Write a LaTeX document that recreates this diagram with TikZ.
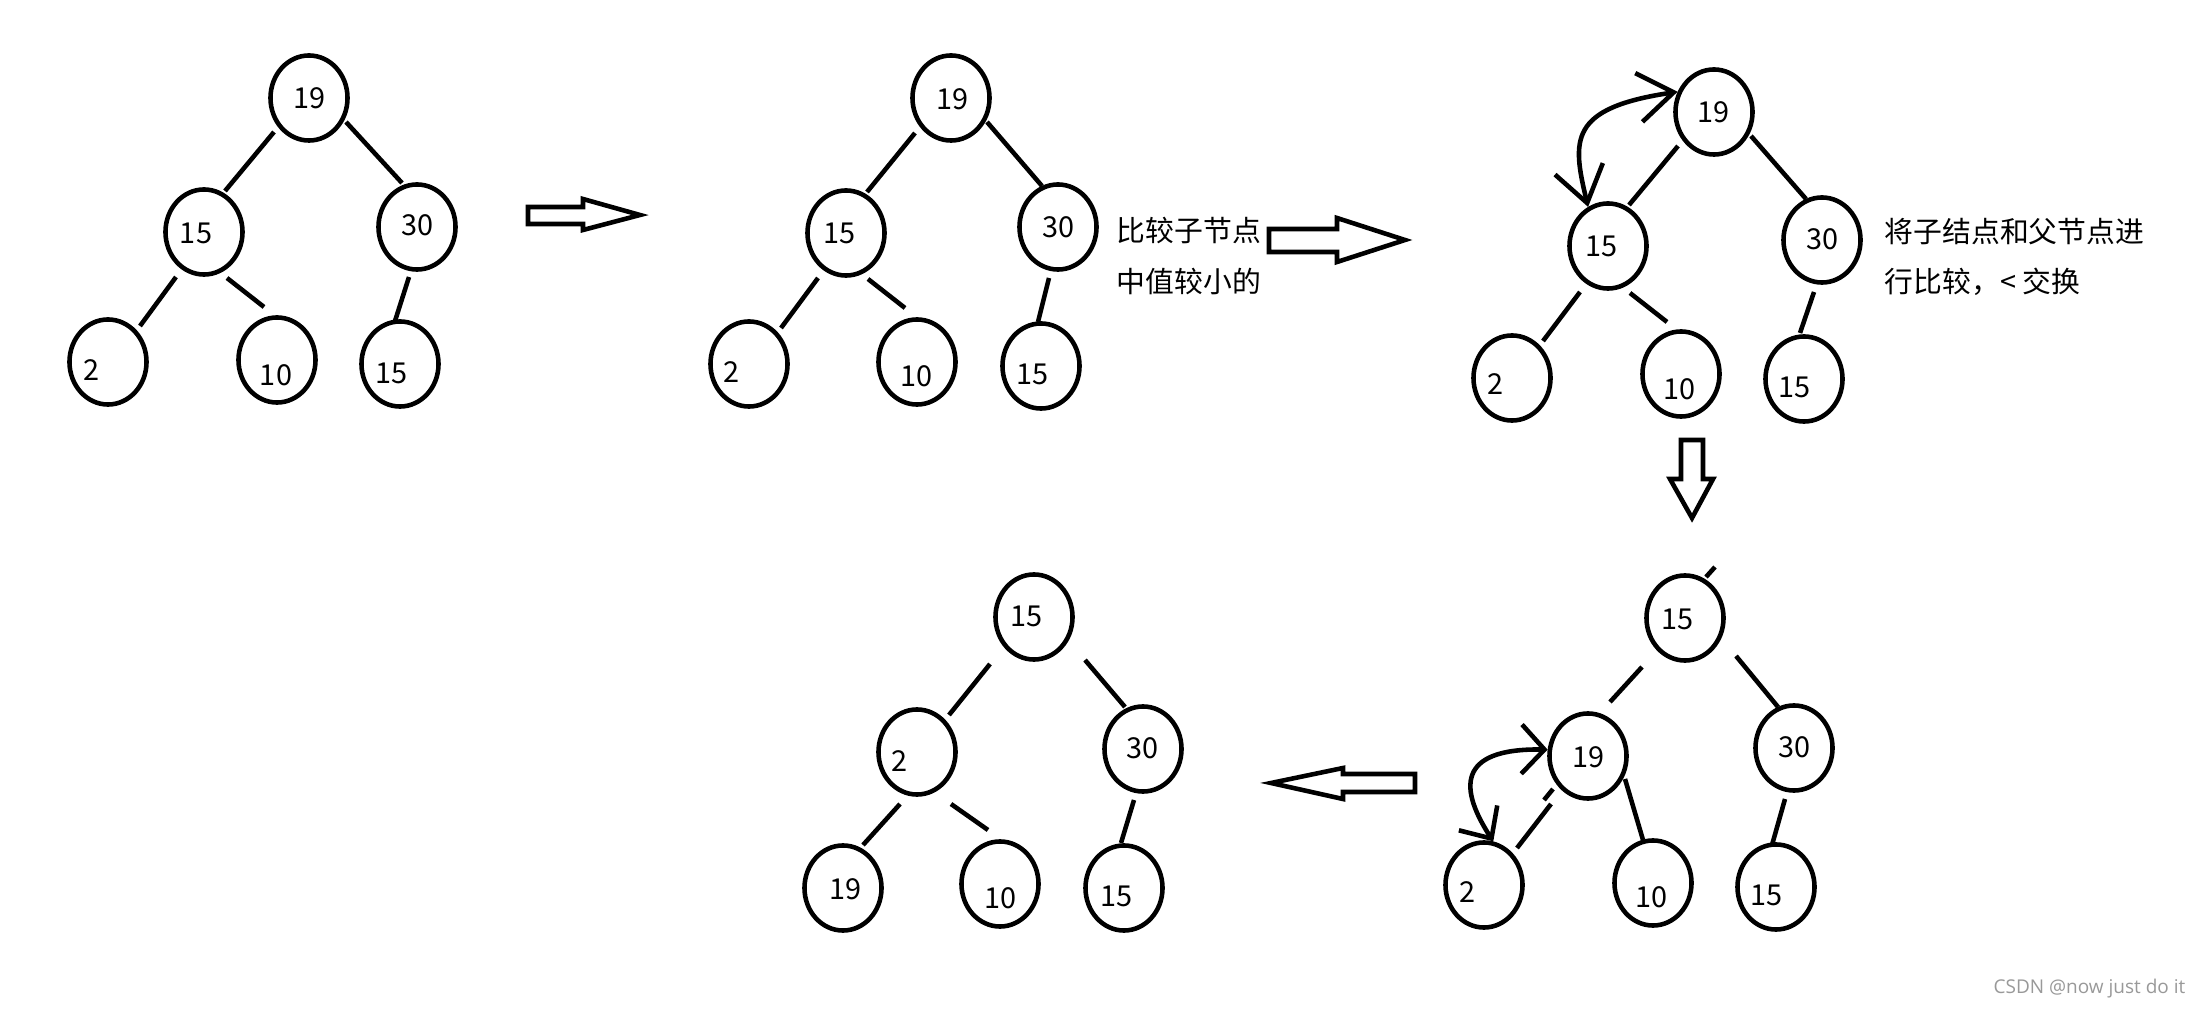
\documentclass[tikz,border=0pt]{standalone}
\usepackage{fontspec}
\setmainfont{Noto Sans CJK SC}
\newfontfamily\wmfont{Open Sans}
\usetikzlibrary{shapes.geometric,arrows.meta,calc}
\begin{document}
\begin{tikzpicture}[x=0.01cm,y=-0.01cm,
  nd/.style={ellipse,draw,line width=1.3pt,minimum width=0.77cm,minimum height=0.85cm,inner sep=0pt},
  num/.style={font=\fontsize{8.2pt}{10pt}\selectfont,inner sep=0pt},
  lbl/.style={font=\fontsize{8.2pt}{10pt}\selectfont,inner sep=0pt,anchor=west},
  ln/.style={line width=1.3pt},
  blk/.style={draw,fill=white,line width=1.3pt,line join=miter},
  bigbarbs/.style={line width=1.3pt,{Straight Barb[length=10pt,width=14pt]}-{Straight Barb[length=10pt,width=14pt]}},
  smallbarbs/.style={line width=1.3pt,{Straight Barb[length=6.5pt,width=14pt]}-{Straight Barb[length=7pt,width=13pt]}}
]
\fill[white] (0,0) rectangle (2203,1010);
\useasboundingbox (0,0) rectangle (2203,1010);

% ---------- tree 1 ----------
\node[nd] (a1) at (309,98) {};
\node[nd] (a2) at (204,232) {};
\node[nd] (a3) at (417,227) {};
\node[nd] (a4) at (108,362) {};
\node[nd] (a5) at (277,360) {};
\node[nd] (a6) at (400,364) {};
\node[num] (a1t) at (309,98) {19};
\node[num] (a2t) at (196,233) {15};
\node[num] (a3t) at (417,225) {30};
\node[num] (a4t) at (91,370) {2};
\node[num] (a5t) at (276,375) {10};
\node[num] (a6t) at (391,373) {15};
\draw[ln] ($(a1)+(-35,34)$) -- ($(a2)+(21,-41)$);
\draw[ln] ($(a1)+(37,24)$) -- ($(a3)+(-15,-44)$);
\draw[ln] ($(a2)+(-28,45)$) -- ($(a4)+(32,-36)$);
\draw[ln] ($(a2)+(23,46)$) -- ($(a5)+(-13,-53)$);
\draw[ln] ($(a3)+(-8,50)$) -- ($(a6)+(-5,-43)$);

% arrow 1
\draw[blk] (528,207) -- (583,207) -- (583,199) -- (640,215) -- (583,230) -- (583,224) -- (528,224) -- cycle;

% ---------- tree 2 ----------
\node[nd] (b1) at (951,98) {};
\node[nd] (b2) at (846,233) {};
\node[nd] (b3) at (1058,227) {};
\node[nd] (b4) at (749,364) {};
\node[nd] (b5) at (917,362) {};
\node[nd] (b6) at (1041,366) {};
\node[num] (b1t) at (952,99) {19};
\node[num] (b2t) at (839,233) {15};
\node[num] (b3t) at (1058,227) {30};
\node[num] (b4t) at (731,372) {2};
\node[num] (b5t) at (916,376) {10};
\node[num] (b6t) at (1032,374) {15};
\draw[ln] ($(b1)+(-36,35)$) -- ($(b2)+(21,-41)$);
\draw[ln] ($(b1)+(36,24)$) -- ($(b3)+(-16,-41)$);
\draw[ln] ($(b2)+(-28,45)$) -- ($(b4)+(32,-36)$);
\draw[ln] ($(b2)+(22,46)$) -- ($(b5)+(-12,-54)$);
\draw[ln] ($(b3)+(-9,51)$) -- ($(b6)+(-3,-44)$);
\node[lbl] (c1) at (1116,230) {比较子节点};
\node[lbl] (c2) at (1116,281) {中值较小的};

% arrow 2
\draw[blk] (1269,229) -- (1337,229) -- (1337,218) -- (1405,240) -- (1337,262) -- (1337,252) -- (1269,252) -- cycle;

% ---------- tree 3 ----------
\node[nd] (d1) at (1714,112) {};
\node[nd] (d2) at (1608,246) {};
\node[nd] (d3) at (1822,240) {};
\node[nd] (d4) at (1512,378) {};
\node[nd] (d5) at (1681,374) {};
\node[nd] (d6) at (1804,379) {};
\node[num] (d1t) at (1713,112) {19};
\node[num] (d2t) at (1601,246) {15};
\node[num] (d3t) at (1822,239) {30};
\node[num] (d4t) at (1495,384) {2};
\node[num] (d5t) at (1679,389) {10};
\node[num] (d6t) at (1794,387) {15};
\draw[ln] ($(d1)+(-36,34)$) -- ($(d2)+(21,-41)$);
\draw[ln] ($(d1)+(37,24)$) -- ($(d3)+(-16,-41)$);
\draw[ln] ($(d2)+(-28,46)$) -- ($(d4)+(31,-37)$);
\draw[ln] ($(d2)+(22,47)$) -- ($(d5)+(-14,-52)$);
\draw[ln] ($(d3)+(-8,52)$) -- ($(d6)+(-4,-46)$);
\draw[bigbarbs] (d2.117) .. controls (1572,140) and (1568,108) .. (d1.151);
\node[lbl] (c3) at (1884,232) {将子结点和父节点进};
\node[lbl] (c4) at (1884,282) {行比较，< 交换};

% arrow down
\draw[blk] (1681,440) -- (1703,440) -- (1703,479) -- (1713,479) -- (1692,518) -- (1670,479) -- (1681,479) -- cycle;

% ---------- tree 5 (bottom right) ----------
\node[nd] (e1) at (1685,618) {};
\node[nd] (e2) at (1588,756) {};
\node[nd] (e3) at (1794,748) {};
\node[nd] (e4) at (1484,885) {};
\node[nd] (e5) at (1653,883) {};
\node[nd] (e6) at (1776,887) {};
\node[num] (e1t) at (1677,619) {15};
\node[num] (e2t) at (1588,757) {19};
\node[num] (e3t) at (1794,747) {30};
\node[num] (e4t) at (1467,892) {2};
\node[num] (e5t) at (1651,897) {10};
\node[num] (e6t) at (1766,895) {15};
\draw[ln] ($(e1)+(21,-41)$) -- ($(e1)+(30,-51)$);
\draw[ln] ($(e1)+(-43,49)$) -- ($(e2)+(22,-54)$);
\draw[ln] ($(e1)+(51,38)$) -- ($(e3)+(-16,-41)$);
\draw[ln] ($(e2)+(-35,33)$) -- ($(e2)+(-44,44)$);
\draw[ln] ($(e2)+(-37,48)$) -- ($(e4)+(33,-37)$);
\draw[ln] ($(e5)+(-10,-43)$) -- ($(e2)+(37,23)$);
\draw[ln] ($(e3)+(-9,51)$) -- ($(e6)+(-4,-42)$);
\draw[smallbarbs] (e2.171) .. controls (1455,748) and (1460,790) .. (e4.78);

% arrow left
\draw[blk] (1415,774) -- (1343,774) -- (1343,768) -- (1271,783) -- (1343,799) -- (1343,792) -- (1415,792) -- cycle;

% ---------- tree 4 (bottom left) ----------
\node[nd] (f1) at (1034,617) {};
\node[nd] (f2) at (917,752) {};
\node[nd] (f3) at (1143,749) {};
\node[nd] (f4) at (843,888) {};
\node[nd] (f5) at (1000,884) {};
\node[nd] (f6) at (1124,888) {};
\node[num] (f1t) at (1026,616) {15};
\node[num] (f2t) at (899,761) {2};
\node[num] (f3t) at (1142,748) {30};
\node[num] (f4t) at (845,889) {19};
\node[num] (f5t) at (1000,898) {10};
\node[num] (f6t) at (1116,896) {15};
\draw[ln] ($(f1)+(-44,47)$) -- ($(f2)+(32,-37)$);
\draw[ln] ($(f1)+(51,43)$) -- ($(f3)+(-18,-42)$);
\draw[ln] ($(f2)+(-17,52)$) -- ($(f4)+(20,-43)$);
\draw[ln] ($(f2)+(34,52)$) -- ($(f5)+(-12,-54)$);
\draw[ln] ($(f3)+(-9,51)$) -- ($(f6)+(-3,-45)$);

% watermark
\node[font=\wmfont\fontsize{5.4pt}{6.5pt}\selectfont,text=black!40,anchor=east,inner sep=0pt] (wm) at (2186,989) {CSDN @now just do it};
\end{tikzpicture}
\end{document}
